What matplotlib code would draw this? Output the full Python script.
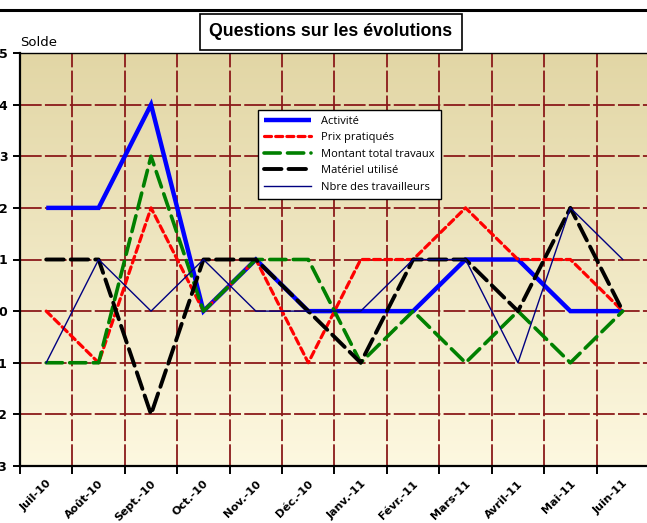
import numpy as np
import matplotlib
matplotlib.use("Agg")
import matplotlib.pyplot as plt
from matplotlib.lines import Line2D

months = ["Juil-10", "Août-10", "Sept.-10", "Oct.-10", "Nov.-10", "Déc.-10",
          "Janv.-11", "Févr.-11", "Mars-11", "Avril-11", "Mai-11", "Juin-11"]
activite = [2, 2, 4, 0, 1, 0, 0, 0, 1, 1, 0, 0]
prix = [0, -1, 2, 0, 1, -1, 1, 1, 2, 1, 1, 0]
montant = [-1, -1, 3, 0, 1, 1, -1, 0, -1, 0, -1, 0]
materiel = [1, 1, -2, 1, 1, 0, -1, 1, 1, 0, 2, 0]
travailleurs = [-1, 1, 0, 1, 0, 0, 0, 1, 1, -1, 2, 1]

W, H = 647, 523
fig = plt.figure(figsize=(W / 100, H / 100), dpi=100)
fig.patch.set_facecolor("white")

# plot area in pixels: left 20, top 53, bottom 466, right ~649 (cut by the image edge)
ax = fig.add_axes([20 / W, 1 - 466 / H, 629 / W, (466 - 53) / H])

x = np.arange(len(months))
ax.set_xlim(-0.5, len(months) - 0.5)
ax.set_ylim(-3, 5)

# background gradient (tan at top, cream at bottom)
top = np.array([226, 214, 165]) / 255
bot = np.array([253, 248, 224]) / 255
t = np.linspace(0, 1, 256)[:, None]
grad = top * (1 - t) + bot * t
ax.imshow(grad[:, None, :], extent=[-0.5, len(months) - 0.5, -3, 5],
          aspect="auto", zorder=0, interpolation="bilinear")

# grid
gcol = "#8B1A1A"
for yv in range(-2, 5):
    ax.axhline(yv, color=gcol, lw=1.3, dashes=(12, 1.8), zorder=1)
for xv in np.arange(0.5, len(months) - 0.5, 1):
    ax.axvline(xv, color=gcol, lw=1.3, dashes=(12, 1.8), zorder=1)

ax.plot(x, activite, color="#0000FF", lw=3.2, label="Activité", zorder=3,
        solid_capstyle="butt", solid_joinstyle="miter")
ax.plot(x, prix, color="#FF0000", lw=2.3, dashes=(2.2, 1.3), label="Prix pratiqués",
        zorder=3, dash_capstyle="round")
ax.plot(x, montant, color="#008000", lw=2.6, dashes=(4.5, 2.0), label="Montant total travaux",
        zorder=3, dash_capstyle="round")
ax.plot(x, materiel, color="#000000", lw=2.8, dashes=(4.5, 1.8), label="Matériel utilisé",
        zorder=3, dash_capstyle="round")
ax.plot(x, travailleurs, color="#000080", lw=1.0, label="Nbre des travailleurs", zorder=4)

# axes styling
for s in ["left", "bottom"]:
    ax.spines[s].set_linewidth(1.6)
ax.spines["top"].set_linewidth(1.0)
ax.spines["right"].set_visible(False)

ax.set_yticks(range(-3, 6))
ax.set_yticklabels([str(v) for v in range(-3, 6)], fontweight="bold", fontsize=9)
ax.tick_params(axis="y", length=5, width=1.4, pad=4)

ax.set_xticks(np.arange(-0.5, len(months), 1))
ax.set_xticklabels([])
ax.tick_params(axis="x", which="major", length=6, width=1.4)
ax.set_xticks(x, minor=True)
ax.set_xticklabels(months, minor=True, rotation=45, ha="right", va="top",
                   rotation_mode="anchor", fontweight="bold", fontsize=8,
                   family="DejaVu Sans")
ax.tick_params(axis="x", which="minor", length=0, pad=9)

leg = ax.legend(loc="upper left", bbox_to_anchor=((252 - 20) / 629, 1 - (104 - 53) / 413),
                frameon=True, fancybox=False, edgecolor="black", facecolor="white",
                framealpha=1, handlelength=4.3, borderpad=0.55,
                labelspacing=0.5, handletextpad=0.9, prop={"family": "Open Sans", "size": 8})
leg.get_frame().set_linewidth(1.0)
leg.set_zorder(5)

# y-axis label
fig.text(20 / W, 1 - 42 / H, "Solde", fontsize=9.5, ha="left", va="center")

# top border line of the chart area
fig.add_artist(Line2D([0, 1], [1 - 10 / H, 1 - 10 / H], color="black", lw=2.2,
                      transform=fig.transFigure))

# title box
fig.text(331 / W, 1 - 32 / H, "Questions sur les évolutions", fontsize=12.8,
         fontweight="bold", family="Liberation Sans", ha="center", va="center",
         bbox=dict(facecolor="white", edgecolor="black", lw=1.2, boxstyle="square,pad=0.55"))

fig.savefig("out.png", dpi=100)
